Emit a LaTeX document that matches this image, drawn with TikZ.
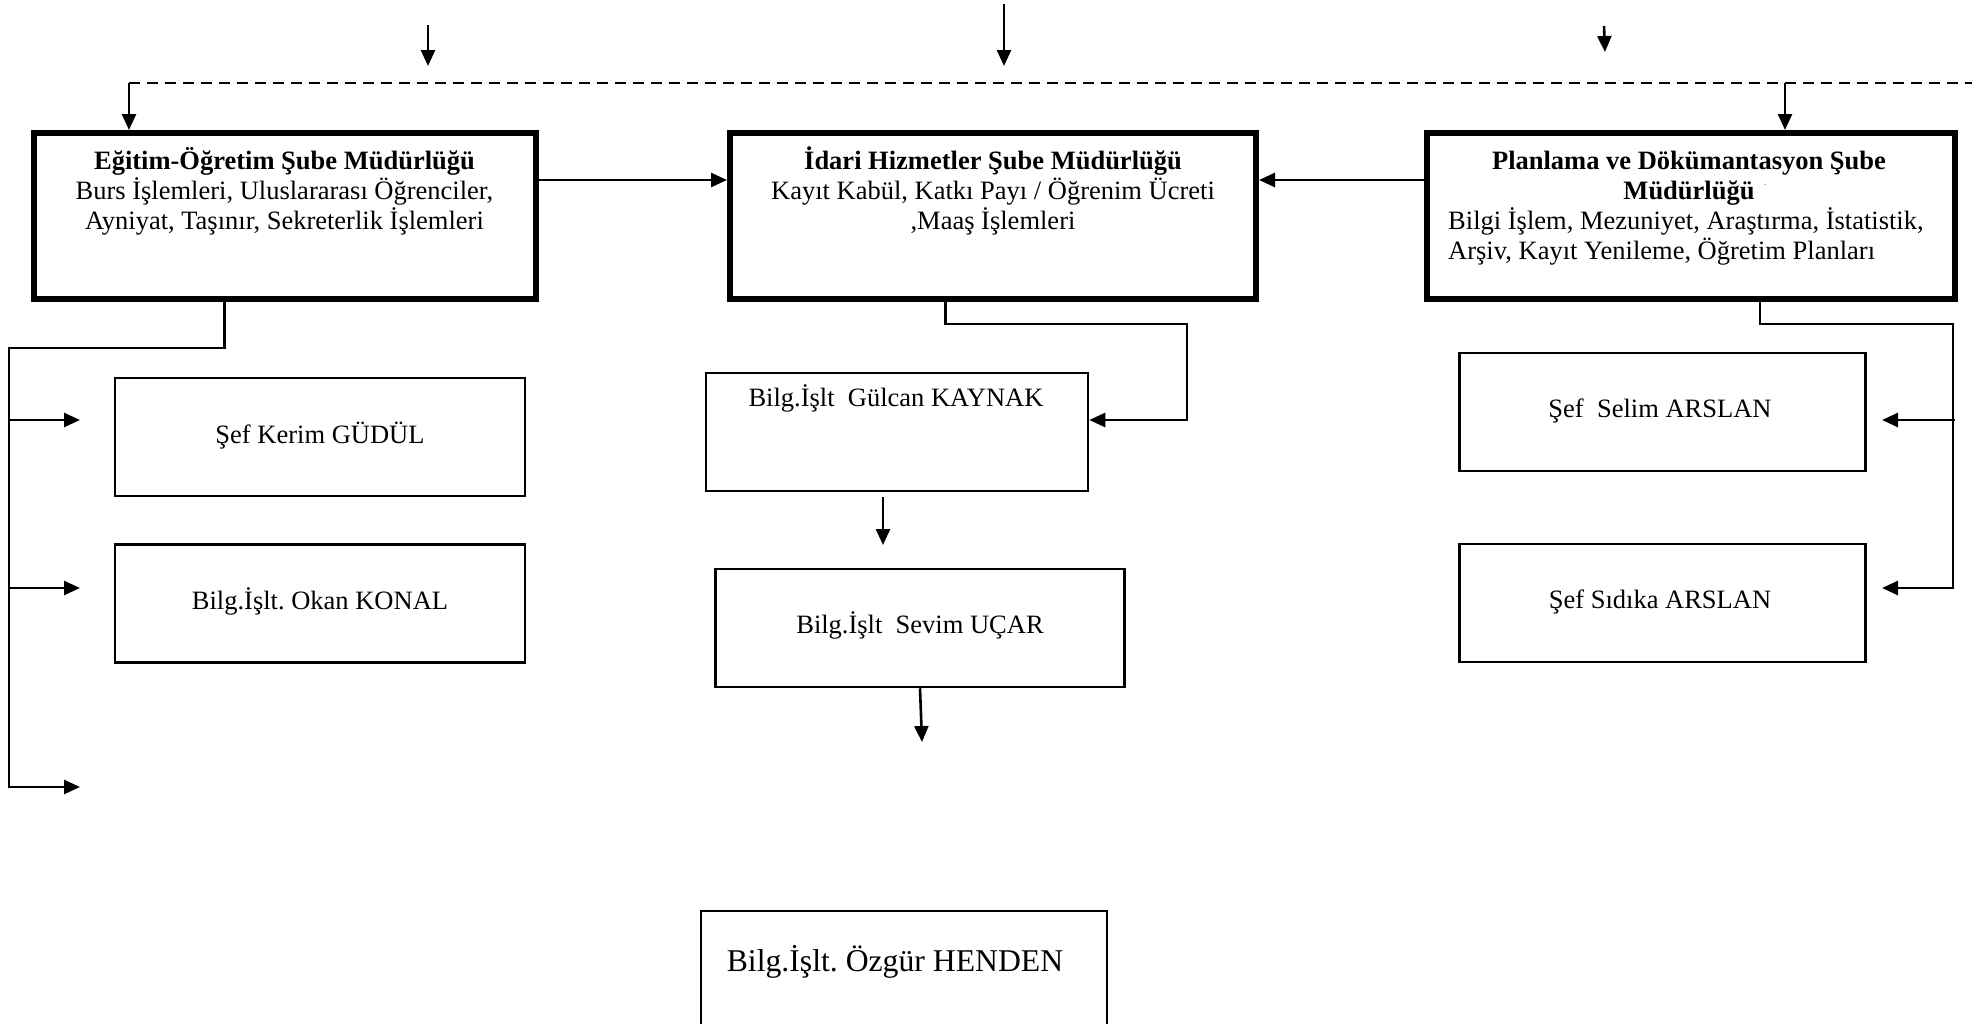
\documentclass[tikz,border=0pt]{standalone}
\usepackage{fontspec}
\setmainfont{Liberation Serif}
\usetikzlibrary{arrows.meta}
\frenchspacing
\begin{document}
\begin{tikzpicture}[x=1pt,y=-1pt,
  bigbox/.style={draw, line width=6pt, inner sep=0pt, minimum height=166pt},
  smallbox/.style={draw, line width=2.5pt, inner sep=0pt, minimum width=408pt, minimum height=118pt},
  conn/.style={line width=2.6pt},
  arr/.style={conn, -{Triangle[length=16pt,width=14pt]}},
  txt/.style={font=\fontsize{26.5}{29.5}\selectfont, inner sep=0pt, anchor=base},
  bigtxt/.style={font=\fontsize{31.7}{36}\selectfont, inner sep=0pt, anchor=base}]
\useasboundingbox (0,0) rectangle (1972,1023);
\clip (0,0) rectangle (1972,1023);

% main boxes
\node[bigbox, minimum width=502pt] (b1) at (284.5,216) {};
\node[bigbox, minimum width=526pt] (b2) at (993,216) {};
\node[bigbox, minimum width=528pt] (b3) at (1691,216) {};

% main box texts
\node[txt] (t1a) at (284.5,169) {\textbf{Eğitim-Öğretim Şube Müdürlüğü}};
\node[txt] (t1b) at (284.5,199) {Burs İşlemleri, Uluslararası Öğrenciler,};
\node[txt] (t1c) at (284.5,229) {Ayniyat, Taşınır, Sekreterlik İşlemleri};
\node[txt] (t2a) at (993,169) {\textbf{İdari Hizmetler Şube Müdürlüğü}};
\node[txt] (t2b) at (993,199) {Kayıt Kabül, Katkı Payı / Öğrenim Ücreti};
\node[txt] (t2c) at (993,229) {,Maaş İşlemleri};
\node[txt] (t3a) at (1689,169) {\textbf{Planlama ve Dökümantasyon Şube}};
\node[txt] (t3b) at (1689,199) {\textbf{Müdürlüğü}};
\node[inner sep=0pt, font=\fontsize{8}{8}\selectfont, anchor=base] (t3dot) at (1765,185) {.};
\node[txt, anchor=base west] (t3c) at (1448,229) {Bilgi İşlem, Mezuniyet, Araştırma, İstatistik,};
\node[txt, anchor=base west] (t3d) at (1448,259) {Arşiv, Kayıt Yenileme, Öğretim Planları};

% staff boxes
\node[smallbox, minimum width=410pt] (ker) at (320,437) {};
\node[txt] (kert) at (320,443) {Şef Kerim GÜDÜL};
\node[smallbox, minimum width=410pt] (oka) at (320,603.5) {};
\node[txt] (okat) at (320,609) {Bilg.İşlt. Okan KONAL};
\node[smallbox, minimum width=382pt] (gul) at (897,432) {};
\node[txt] (gult) at (896,406) {Bilg.İşlt\ \ Gülcan KAYNAK};
\node[smallbox, minimum width=409pt] (sev) at (920,628) {};
\node[txt] (sevt) at (920,633) {Bilg.İşlt\ \ Sevim UÇAR};
\node[smallbox, minimum width=406pt] (ozg) at (904,970) {};
\node[bigtxt] (ozgt) at (895,971) {Bilg.İşlt. Özgür HENDEN};
\node[smallbox, minimum width=406pt] (sel) at (1662.5,412) {};
\node[txt] (selt) at (1660,417) {Şef\ \ Selim ARSLAN};
\node[smallbox, minimum width=406pt] (sid) at (1662.5,603) {};
\node[txt] (sidt) at (1660,608) {Şef Sıdıka ARSLAN};

% top free arrows
\coordinate (s1) at (428,25);  \coordinate (e1) at (428,66);
\coordinate (s2) at (1004,4);  \coordinate (e2) at (1004,66);
\coordinate (s3) at (1604,26); \coordinate (e3) at (1605,52);
\draw[arr] (s1) -- (e1);
\draw[arr] (s2) -- (e2);
\draw[arr] (s3) -- (e3);

% dashed line and arrows into boxes
\coordinate (dl) at (129,83);
\coordinate (dr) at (1972,83);
\draw[conn, dash pattern=on 11pt off 7pt] (dl) -- (dr);
\draw[arr] (dl) -- (b1.north -| dl);
\draw[arr] (1785,83) -- (b3.north -| 1785,0);

% between main boxes
\draw[arr] (b1.east |- 0,180) -- (b2.west |- 0,180);
\draw[arr] (b3.west |- 0,180) -- (b2.east |- 0,180);

% box1 branch
\coordinate (l1) at (9,348);
\draw[conn] (b1.south -| 224.5,0) -- (224.5,348) -- (l1) -- (9,788);
\draw[arr] (9,420) -- (80,420);
\draw[arr] (9,588) -- (80,588);
\draw[arr] (9,787) -- (80,787);

% box2 branch
\draw[conn] (b2.south -| 945.5,0) -- (945.5,324) -- (1187,324) -- (1187,421);
\draw[arr] (1187,420) -- (gul.east |- 0,420);
\coordinate (gs1) at (883,497);
\coordinate (gs2) at (883,545);
\draw[arr] (gs1) -- (gs2);
\coordinate (se2) at (922,742);
\draw[arr] (sev.south -| 920,0) -- (se2);

% box3 branch
\draw[conn] (b3.south -| 1760,0) -- (1760,324) -- (1953,324) -- (1953,589);
\draw[arr] (1955,420) -- (1882,420);
\draw[arr] (1953,588) -- (1882,588);
\end{tikzpicture}
\end{document}
